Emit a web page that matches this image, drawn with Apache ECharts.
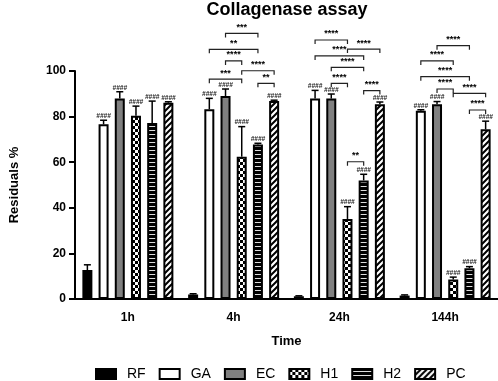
<!DOCTYPE html>
<html>
<head>
<meta charset="utf-8">
<script src="https://cdn.jsdelivr.net/npm/echarts@6/dist/echarts.min.js"></script>
<style>
  html, body { margin: 0; padding: 0; background: #fff; }
  #main { width: 498px; height: 381px; }
</style>
</head>
<body>
<div id="main"></div>
<script>
// 数据
var categories = ["1h", "4h", "24h", "144h"];
var seriesNames = ["RF", "GA", "EC", "H1", "H2", "PC"];

var RF = [12.7, 2.0, 1.2, 1.5];
var GA = [76.6, 83.2, 87.9, 82.6];
var EC = [87.9, 89.0, 87.9, 85.4];
var H1 = [80.4, 62.4, 35.1, 8.6];
var H2 = [77.2, 67.8, 52.0, 13.5];
var PC = [86.1, 86.8, 85.4, 74.4];

// 误差 (SD, 只画上半部分)
var RF_err = [2.3, 0.3, 0.2, 0.3];
var GA_err = [1.8, 4.8, 3.6, 0.4];
var EC_err = [3.0, 3.1, 2.0, 1.2];
var H1_err = [4.2, 13.2, 5.4, 1.0];
var H2_err = [9.6, 0.5, 2.7, 0.7];
var PC_err = [0.4, 0.4, 1.0, 3.6];

// 显著性标记: [组, 起始柱, 结束柱, 高度, 文字]
var sig4h = [
  [1, 2, 4, 116.5, "***"],
  [1, 1, 4, 109.5, "**"],
  [1, 2, 3, 104.4, "****"],
  [1, 3, 5, 100.1, "****"],
  [1, 1, 3, 96.4, "***"],
  [1, 4, 5, 94.6, "**"],
];
var sig24h = [
  [2, 1, 3, 113.6, "****"],
  [2, 3, 5, 109.6, "****"],
  [2, 1, 4, 106.6, "****"],
  [2, 2, 4, 101.6, "****"],
  [2, 2, 3, 94.6, "****"],
  [2, 4, 5, 91.4, "****"],
  [2, 3, 4, 60.2, "**"],
];
var sig144h = [
  [3, 2, 4, 111.1, "****"],
  [3, 1, 3, 104.4, "****"],
  [3, 1, 4, 97.5, "****"],
  [3, 2, 3, 92.1, "****"],
  [3, 3, 5, 90.2, "****"],
  [3, 4, 5, 82.9, "****"],
];

var values = [RF, GA, EC, H1, H2, PC];
var errors = [RF_err, GA_err, EC_err, H1_err, H2_err, PC_err];

// 柱子尺寸
var barW = 10;
var barGap = 0.62;
var step = barW * (1 + barGap);

// ----------填充图案-------------------
function makePattern(draw, w, h) {
  var c = document.createElement("canvas");
  c.width = w;
  c.height = h;
  draw(c.getContext("2d"));
  return { image: c, repeat: "repeat" };
}
var checker = makePattern(function (ctx) {
  ctx.fillStyle = "#fff";
  ctx.fillRect(0, 0, 6, 6);
  ctx.fillStyle = "#000";
  ctx.fillRect(0, 0, 3, 3);
  ctx.fillRect(3, 3, 3, 3);
}, 6, 6);
var dashes = makePattern(function (ctx) {
  ctx.fillStyle = "#000";
  ctx.fillRect(0, 0, 4, 4);
  ctx.fillStyle = "#ddd";
  ctx.fillRect(0, 2, 4, 1);
}, 4, 4);
var stripes = makePattern(function (ctx) {
  ctx.fillStyle = "#fff";
  ctx.fillRect(0, 0, 6, 6);
  ctx.strokeStyle = "#000";
  ctx.lineWidth = 2;
  ctx.beginPath();
  ctx.moveTo(-1, 7); ctx.lineTo(7, -1);
  ctx.moveTo(-4, 4); ctx.lineTo(4, -4);
  ctx.moveTo(2, 10); ctx.lineTo(10, 2);
  ctx.stroke();
}, 6, 6);

var fills = ["#000", "#fff", "#808080", checker, dashes, stripes];
var font = "Arial, Liberation Sans";

var chart = echarts.init(document.getElementById("main"));

var barSeries = seriesNames.map(function (name, i) {
  return {
    name: name,
    type: "bar",
    barWidth: barW,
    barGap: barGap * 100 + "%",
    data: values[i],
    itemStyle: {
      color: fills[i],
      borderColor: "#000",
      borderWidth: 2,
    },
  };
});

// 误差线数据
var errData = [];
for (var s = 0; s < values.length; s++) {
  for (var k = 0; k < categories.length; k++) {
    errData.push([k, s, values[s][k], errors[s][k]]);
  }
}

var sigData = sig4h.concat(sig24h, sig144h);

function barX(api, cat, idx) {
  return api.coord([cat, 0])[0] + (idx - 2.5) * step;
}

var option = {
  animation: false,
  title: {
    text: "Collagenase assay",
    left: 287,
    textAlign: "center",
    top: 1,
    padding: 0,
    textStyle: { fontSize: 18, fontWeight: "bold", color: "#000", fontFamily: font },
  },
  legend: {
    data: seriesNames,
    top: 362,
    left: 90,
    icon: "rect",
    itemWidth: 20,
    itemHeight: 10,
    itemGap: 13,
    textStyle: { fontSize: 14, color: "#000", fontFamily: font, padding: [0, 0, 0, 6] },
  },
  grid: {
    left: 75,
    right: 0,
    top: 71,
    bottom: 82,
  },
  xAxis: {
    type: "category",
    data: categories,
    name: "Time",
    nameLocation: "middle",
    nameGap: 36,
    nameTextStyle: { fontSize: 13, fontWeight: "bold", color: "#000", fontFamily: font },
    axisLine: { lineStyle: { color: "#000", width: 2 } },
    axisTick: { alignWithLabel: true, length: 5, lineStyle: { width: 2 } },
    axisLabel: { margin: 13, fontSize: 12, fontWeight: "bold", color: "#000", fontFamily: font },
  },
  yAxis: {
    type: "value",
    min: 0,
    max: 100,
    interval: 20,
    name: "Residuals %",
    nameLocation: "middle",
    nameGap: 54,
    nameTextStyle: { fontSize: 13, fontWeight: "bold", color: "#000", fontFamily: font },
    axisLine: { show: true, lineStyle: { color: "#000", width: 2 } },
    axisTick: { show: true, length: 6, lineStyle: { width: 2 } },
    axisLabel: { margin: 9, fontSize: 12, fontWeight: "bold", color: "#000", fontFamily: font },
    splitLine: { show: false },
  },
  series: barSeries.concat([
    {
      // 误差线和 #### 标记
      type: "custom",
      silent: true,
      z: 3,
      data: errData,
      renderItem: function (params, api) {
        var cat = api.value(0);
        var idx = api.value(1);
        var x = barX(api, cat, idx);
        var y0 = api.coord([cat, api.value(2)])[1];
        var y1 = api.coord([cat, api.value(2) + api.value(3)])[1];
        var children = [
          { type: "line", shape: { x1: x, y1: y0, x2: x, y2: y1 }, style: { stroke: "#000", lineWidth: 1.5 } },
          { type: "line", shape: { x1: x - 3.5, y1: y1, x2: x + 3.5, y2: y1 }, style: { stroke: "#000", lineWidth: 1.5 } },
        ];
        if (idx > 0) {
          children.push({
            type: "text",
            style: {
              x: x,
              y: y1 - 4,
              text: "####",
              align: "center",
              verticalAlign: "middle",
              font: "italic bold 6.5px " + font,
              fill: "#222",
            },
          });
        }
        return { type: "group", children: children };
      },
    },
    {
      // 显著性括号
      type: "custom",
      silent: true,
      z: 3,
      data: sigData,
      renderItem: function (params, api) {
        var cat = api.value(0);
        var xa = barX(api, cat, api.value(1));
        var xb = barX(api, cat, api.value(2));
        var y = api.coord([cat, api.value(3)])[1];
        var label = sigData[params.dataIndex][4];
        return {
          type: "group",
          children: [
            {
              type: "polyline",
              shape: { points: [[xa, y + 4], [xa, y], [xb, y], [xb, y + 4]] },
              style: { stroke: "#222", lineWidth: 1.2, fill: null },
            },
            {
              type: "text",
              style: {
                x: (xa + xb) / 2,
                y: y - 6,
                text: label,
                align: "center",
                verticalAlign: "middle",
                font: "bold 9px " + font,
                fill: "#000",
              },
            },
          ],
        };
      },
    },
  ]),
};

chart.setOption(option);
</script>
</body>
</html>
